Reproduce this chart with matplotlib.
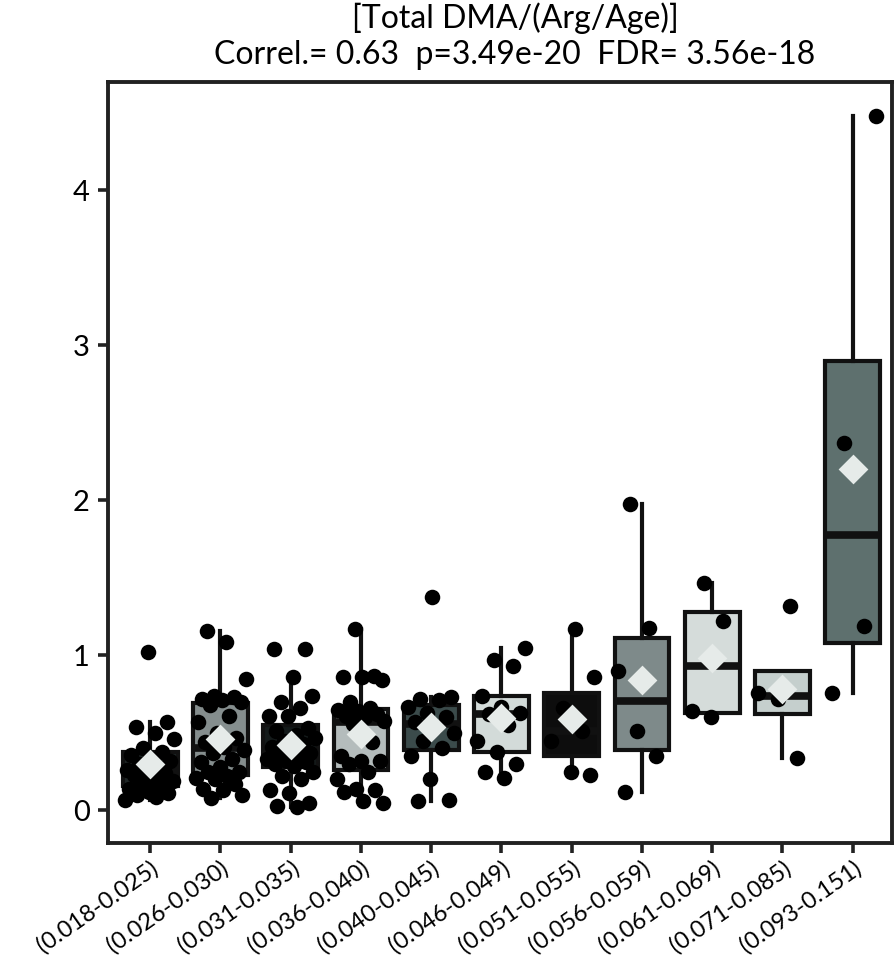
import numpy as np
import matplotlib
matplotlib.use("Agg")
import matplotlib.pyplot as plt

plt.rcParams['font.family'] = ['Lato', 'DejaVu Sans']

categories = ["(0.018-0.025)", "(0.026-0.030)", "(0.031-0.035)", "(0.036-0.040)",
              "(0.040-0.045)", "(0.046-0.049)", "(0.051-0.055)", "(0.056-0.059)",
              "(0.061-0.069)", "(0.071-0.085)", "(0.093-0.151)"]

g0 = [0.07, 0.09, 0.10, 0.11, 0.12, 0.14, 0.15, 0.17, 0.19, 0.21, 0.23, 0.24, 0.25,
      0.26, 0.28, 0.30, 0.32, 0.34, 0.36, 0.38, 0.40, 0.46, 0.50, 0.54, 0.57, 1.02]
g1 = [0.08, 0.10, 0.13, 0.14, 0.17, 0.20, 0.21, 0.22, 0.25, 0.25,
      0.28, 0.31, 0.33, 0.37, 0.39, 0.41, 0.44, 0.47, 0.50,
      0.57, 0.61, 0.68, 0.70, 0.71, 0.72, 0.73, 0.74, 0.85, 1.09, 1.16]
g2 = [0.02, 0.03, 0.05, 0.11, 0.13, 0.20, 0.22, 0.25, 0.29,
      0.30, 0.31, 0.32, 0.33, 0.35, 0.36, 0.37,
      0.39, 0.41, 0.43, 0.45, 0.47, 0.49, 0.51, 0.53,
      0.61, 0.61, 0.66, 0.70, 0.74, 0.86, 1.04, 1.04]
g3 = [0.05, 0.06, 0.12, 0.13, 0.14, 0.20, 0.25, 0.30, 0.32, 0.32, 0.35, 0.44,
      0.56, 0.58, 0.60, 0.61, 0.62, 0.64,
      0.65, 0.66, 0.70, 0.84, 0.86, 0.86, 0.87, 1.17]
g4 = [0.06, 0.07, 0.20, 0.35, 0.40, 0.45, 0.50, 0.54, 0.57, 0.60, 0.63, 0.67,
      0.71, 0.72, 0.73, 1.38]
g5 = [0.21, 0.25, 0.30, 0.38, 0.45, 0.55, 0.62, 0.63, 0.67, 0.74, 0.93, 0.97, 1.045]
g6 = [0.23, 0.25, 0.45, 0.51, 0.66, 0.86, 1.17]
g7 = [0.12, 0.35, 0.51, 0.90, 1.18, 1.98]
g8 = [0.60, 0.64, 1.22, 1.47]
g9 = [0.34, 0.72, 0.76, 1.32]
g10 = [0.76, 1.19, 2.37, 4.48]
groups = [g0, g1, g2, g3, g4, g5, g6, g7, g8, g9, g10]

box_colors = ["#1f2626", "#858e8e", "#141a1a", "#b4bcbc", "#3b4b4b", "#d3dbd9",
              "#0d0d0d", "#7e8a8a", "#d5dcda", "#c5cfcd", "#5e706e"]

title_line1 = "[Total DMA/(Arg/Age)]"
title_line2 = "Correl.= 0.63  p=3.49e-20  FDR= 3.56e-18"

fig = plt.figure(figsize=(8.95, 9.63), dpi=100)
ax = fig.add_axes([108/895, 1-843/963, (892-108)/895, (843-82)/963])

pos = np.arange(len(groups))
bp = ax.boxplot(groups, positions=pos, widths=0.78, patch_artist=True,
                showfliers=False, whis=1.5,
                boxprops=dict(edgecolor="#111111", linewidth=3.0),
                medianprops=dict(color="#111111", linewidth=5.5),
                whiskerprops=dict(color="#111111", linewidth=3.0),
                capprops=dict(linewidth=0), zorder=2)
for patch, c in zip(bp['boxes'], box_colors):
    patch.set_facecolor(c)

# jittered points (deterministic jitter)
for i, g in enumerate(groups):
    vals = np.array(g)
    k = np.arange(len(vals))
    jit = (((k * 0.6180339887) + 0.31 * i) % 1.0 - 0.5) * 0.72
    ax.scatter(i + jit, vals, s=125, color="black", zorder=3, linewidths=0)

means = [np.mean(g) for g in groups]
ax.scatter(pos, means, marker="D", s=230, color="#e6ebe9", zorder=4, linewidths=0)

ax.set_xlim(-0.6, 10.56)
ax.set_ylim(-0.21, 4.70)
ax.set_yticks([0, 1, 2, 3, 4])
ax.set_yticklabels(["0", "1", "2", "3", "4"], fontsize=21)
ax.set_xticks(pos)
ax.set_xticklabels(categories, rotation=35, ha="right", rotation_mode="anchor", fontsize=17)
ax.tick_params(axis="both", length=7, width=2.6, color="#222222", pad=6)
ax.tick_params(axis="x", pad=3)
for s in ax.spines.values():
    s.set_linewidth(2.8)
    s.set_color("#222222")

fig.text(515/895, 1-18/963, title_line1, ha="center", va="center", fontsize=23)
fig.text(515/895, 1-55/963, title_line2, ha="center", va="center", fontsize=23)

fig.savefig("out.png", dpi=100)
